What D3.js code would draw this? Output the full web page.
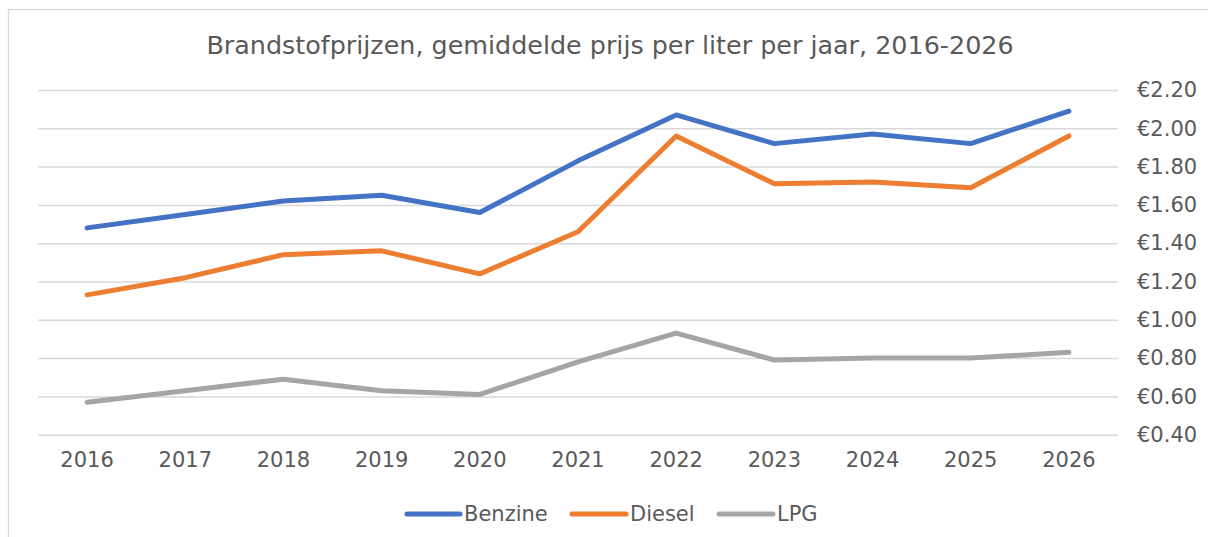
<!DOCTYPE html>
<html>
<head>
<meta charset="utf-8">
<script src="https://cdn.jsdelivr.net/npm/d3@7"></script>
<style>
  html, body { margin: 0; padding: 0; background: #fff; }
  svg { display: block; font-family: "DejaVu Sans", sans-serif; }
</style>
</head>
<body>
<svg id="chart" width="1208" height="537"></svg>
<script>
const years = ["2016","2017","2018","2019","2020","2021","2022","2023","2024","2025","2026"];
const benzine = [1.48, 1.55, 1.62, 1.65, 1.56, 1.83, 2.07, 1.92, 1.97, 1.92, 2.09];
const diesel  = [1.13, 1.22, 1.34, 1.36, 1.24, 1.46, 1.96, 1.71, 1.72, 1.69, 1.96];
const lpg     = [0.57, 0.63, 0.69, 0.63, 0.61, 0.78, 0.93, 0.79, 0.80, 0.80, 0.83];
const yTicks  = [0.40, 0.60, 0.80, 1.00, 1.20, 1.40, 1.60, 1.80, 2.00, 2.20];
const seriesNames = ["Benzine", "Diesel", "LPG"];
const seriesColors = ["#4472C4", "#ED7D31", "#A5A5A5"];
const titleText = "Brandstofprijzen, gemiddelde prijs per liter per jaar, 2016-2026";

const series = [benzine, diesel, lpg].map((vals, i) => ({
  name: seriesNames[i], color: seriesColors[i], values: vals
}));

const svg = d3.select("#chart");
const plot = { left: 38, right: 1118, top: 90, bottom: 434.7 };

// outer border (extends past right and bottom edges)
svg.append("rect")
  .attr("x", 8.5).attr("y", 9.5)
  .attr("width", 1250).attr("height", 560)
  .attr("fill", "#fff").attr("stroke", "#d9d9d9").attr("stroke-width", 1.3);

// title
svg.append("text")
  .attr("x", 610).attr("y", 54)
  .attr("text-anchor", "middle")
  .attr("font-size", 25.4)
  .attr("fill", "#595959")
  .text(titleText);

const x = d3.scaleBand().domain(years).range([plot.left, plot.right]).paddingInner(0).paddingOuter(0);
const y = d3.scaleLinear().domain([0.4, 2.2]).range([plot.bottom, plot.top]);

// gridlines + right axis labels
const yAxis = d3.axisRight(y)
  .tickValues(yTicks)
  .tickSize(-(plot.right - plot.left))
  .tickPadding(19)
  .tickFormat(d => "€" + d.toFixed(2));

const gy = svg.append("g")
  .attr("transform", `translate(${plot.right},0)`)
  .call(yAxis);
gy.select(".domain").remove();
gy.selectAll(".tick line").attr("stroke", "#d9d9d9").attr("stroke-width", 1.5);
gy.selectAll(".tick text")
  .attr("fill", "#595959")
  .attr("font-size", 21)
  .attr("font-family", "DejaVu Sans, sans-serif");

// x axis labels
const xAxis = d3.axisBottom(x).tickSize(0).tickPadding(17);
const gx = svg.append("g")
  .attr("transform", `translate(0,${plot.bottom})`)
  .call(xAxis);
gx.select(".domain").remove();
gx.selectAll(".tick text")
  .attr("fill", "#595959")
  .attr("font-size", 21)
  .attr("font-family", "DejaVu Sans, sans-serif");

// lines
const line = d3.line()
  .x((d, i) => x(years[i]) + x.bandwidth() / 2)
  .y(d => y(d));

svg.append("g").selectAll("path")
  .data(series)
  .join("path")
  .attr("d", d => line(d.values))
  .attr("fill", "none")
  .attr("stroke", d => d.color)
  .attr("stroke-width", 5)
  .attr("stroke-linejoin", "round")
  .attr("stroke-linecap", "round");

// legend
const legendItems = [
  { x1: 407, x2: 460 },
  { x1: 572, x2: 626 },
  { x1: 719, x2: 773 }
];
const lg = svg.append("g");
series.forEach((s, i) => {
  const it = legendItems[i];
  lg.append("line")
    .attr("x1", it.x1).attr("x2", it.x2)
    .attr("y1", 514).attr("y2", 514)
    .attr("stroke", s.color).attr("stroke-width", 5)
    .attr("stroke-linecap", "round");
  lg.append("text")
    .attr("x", it.x2 + 4).attr("y", 521)
    .attr("font-size", 21)
    .attr("fill", "#595959")
    .text(s.name);
});
</script>
</body>
</html>
